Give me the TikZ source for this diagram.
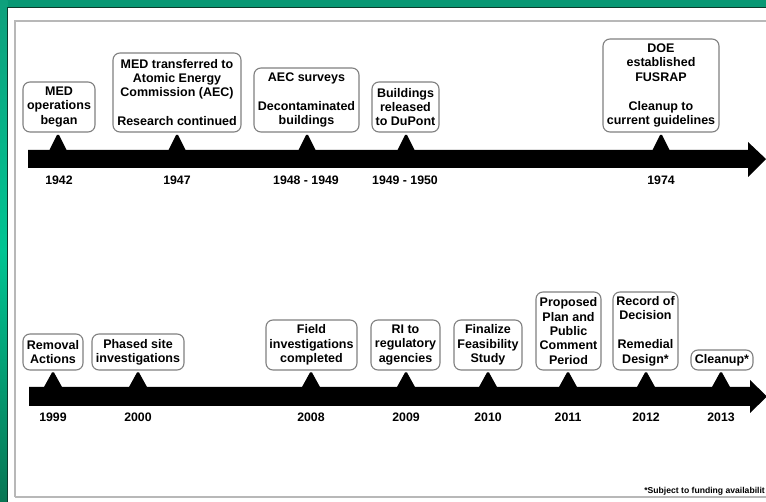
\documentclass[tikz,border=0pt]{standalone}
\usepackage{fontspec}
\setmainfont{Liberation Sans}
\begin{document}
\begin{tikzpicture}[x=1pt,y=-1pt,
  event/.style={draw=black!50, line width=1.1pt, fill=white, rounded corners=7pt,
    align=center, inner sep=0pt, font=\fontsize{12.5}{14.4}\selectfont\bfseries},
  yearlbl/.style={font=\fontsize{12.3}{14}\selectfont\bfseries, inner sep=0pt},
  marker/.style={fill=black}]
\useasboundingbox (0,0) rectangle (766,502);
\fill[white] (0,0) rectangle (766,502);

% green window border (top and left)
\fill[color={rgb,255:red,8;green,152;blue,116}] (0,0) rectangle (766,7.5);
\shade[top color={rgb,255:red,14;green,160;blue,124}, bottom color={rgb,255:red,8;green,118;blue,84},
       middle color={rgb,255:red,0;green,196;blue,146}] (0,0) rectangle (7.5,502);
\draw[color={rgb,255:red,10;green,60;blue,44}, line width=1.2pt] (7.5,502) -- (7.5,7.5) -- (766,7.5);

% slide frame
\draw[color=black!28, line width=2pt] (15,497) -- (15,21) -- (780,21);
\draw[color=black!28, line width=2pt] (15,497) -- (780,497);

% upper timeline arrow
\fill (28,150) -- (748,150) -- (748,142) -- (766,159) -- (748,177) -- (748,168) -- (28,168) -- cycle;
% lower timeline arrow
\fill (29,387) -- (750,387) -- (750,380) -- (767,396.5) -- (750,413) -- (750,406) -- (29,406) -- cycle;

% markers on the upper timeline
\foreach \x/\n in {58/a,177/b,307/c,406/d,661/e} {
  \coordinate (m\n) at (\x,150);
  \fill[marker] (m\n) ++(-8.5,0) -- ++(7.5,-15) -- ++(2,0) -- ++(7.5,15) -- cycle;
}
% markers on the lower timeline
\foreach \x/\n in {53/p,138/q,311/r,406/s,488/t,568/u,646/v,721/w} {
  \coordinate (m\n) at (\x,387);
  \fill[marker] (m\n) ++(-9,0) -- ++(8,-14.5) -- ++(2,0) -- ++(8,14.5) -- cycle;
}

% year labels
\node[yearlbl] (ya) at (59,180) {1942};
\node[yearlbl] (yb) at (177,180) {1947};
\node[yearlbl] (yc) at (306,180) {1948 - 1949};
\node[yearlbl] (yd) at (405,180) {1949 - 1950};
\node[yearlbl] (ye) at (661,180) {1974};
\node[yearlbl] (yp) at (53,417) {1999};
\node[yearlbl] (yq) at (138,417) {2000};
\node[yearlbl] (yr) at (311,417) {2008};
\node[yearlbl] (ys) at (406,417) {2009};
\node[yearlbl] (yt) at (488,417) {2010};
\node[yearlbl] (yu) at (568,417) {2011};
\node[yearlbl] (yv) at (646,417) {2012};
\node[yearlbl] (yw) at (721,417) {2013};

% upper events
\node[event, minimum width=72pt, minimum height=50pt] (ba) at (59,107)
  {MED\\operations\\began};
\node[event, minimum width=128pt, minimum height=79pt] (bb) at (177,92.5)
  {MED transferred to\\Atomic Energy\\Commission (AEC)\\[14.4pt]Research continued};
\node[event, minimum width=105pt, minimum height=64pt] (bc) at (306.5,100)
  {AEC surveys\\[14.4pt]Decontaminated\\buildings};
\node[event, minimum width=67pt, minimum height=50pt] (bd) at (405.5,107)
  {Buildings\\released\\to DuPont};
\node[event, minimum width=116pt, minimum height=93pt] (be) at (661,85.5)
  {DOE\\established\\FUSRAP\\[14.4pt]Cleanup to\\current guidelines};

% lower events
\node[event, minimum width=60pt, minimum height=36pt] (bp) at (53,352)
  {Removal\\Actions};
\node[event, minimum width=92pt, minimum height=36pt] (bq) at (138,352)
  {Phased site\\investigations};
\node[event, minimum width=91pt, minimum height=50pt] (br) at (311.5,345)
  {Field\\investigations\\completed};
\node[event, minimum width=69pt, minimum height=50pt] (bs) at (405.5,345)
  {RI to\\regulatory\\agencies};
\node[event, minimum width=68pt, minimum height=50pt] (bt) at (488,345)
  {Finalize\\Feasibility\\Study};
\node[event, minimum width=65pt, minimum height=78pt] (bu) at (568.5,331)
  {Proposed\\Plan and\\Public\\Comment\\Period};
\node[event, minimum width=65pt, minimum height=78pt] (bv) at (645.5,331)
  {Record of\\Decision\\[14.4pt]Remedial\\Design*};
\node[event, minimum width=62pt, minimum height=20pt] (bw) at (722,360)
  {Cleanup*};

% footnote
\node[anchor=east, inner sep=0pt, font=\fontsize{8.6}{10}\selectfont\bfseries] (fn) at (765,491)
  {*Subject to funding availabilit};
\end{tikzpicture}
\end{document}
